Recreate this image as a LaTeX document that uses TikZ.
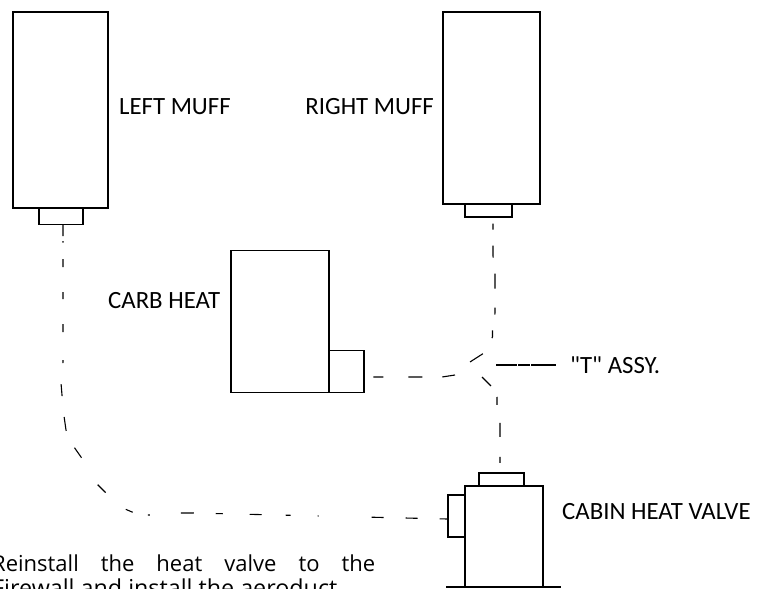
\documentclass[tikz,border=0pt]{standalone}
\usepackage{fontspec}
\setmainfont{Carlito}
\newfontfamily\rawlabel{Carlito}
\newfontfamily\bodyfont{Open Sans}
\tikzset{
  part/.style={draw=black,line width=1.3pt,inner sep=0pt,fill=white},
  lbl/.style={inner sep=0pt,font=\fontsize{24.8pt}{27pt}\selectfont,anchor=west},
  duct/.style={draw=black,line width=1.1pt},
  body/.style={inner sep=0pt,anchor=base west,font=\bodyfont\fontsize{22pt}{24pt}\selectfont}
}
\begin{document}
\begin{tikzpicture}[x=1pt,y=-1pt]
\useasboundingbox (0,0) rectangle (761,589);
\clip (0,0) rectangle (761,589);
% boxes
\node[part,minimum width=44pt,minimum height=17pt] (lf) at (61,216) {};
\node[part,minimum width=95pt,minimum height=196pt] (lm) at (60.5,110) {};
\node[part,minimum width=47pt,minimum height=13pt] (rf) at (488.5,210.5) {};
\node[part,minimum width=97pt,minimum height=192pt] (rm) at (491.5,108) {};
\node[part,minimum width=35pt,minimum height=42pt] (cf) at (346.5,371.5) {};
\node[part,minimum width=98pt,minimum height=142pt] (cm) at (280,321.5) {};
\node[part,minimum width=45pt,minimum height=13pt] (vt) at (501.5,479.5) {};
\node[part,minimum width=17pt,minimum height=42pt] (vl) at (456.5,516) {};
\draw[line width=1.5pt] (465,587) -- (465,486) -- (543,486) -- (543,587);
\draw[line width=1.2pt] (446,587) -- (561,587);
\coordinate (tu) at (470,362);
\coordinate (tv) at (484,353);
\coordinate (td) at (482,377);
\coordinate (te) at (491,386);
\coordinate (tl) at (496,365);
\coordinate (tr) at (556,365);
% labels
\node[lbl] (a) at (119,107) {LEFT MUFF};
\node[lbl,anchor=east] (b) at (434,107) {RIGHT MUFF};
\node[lbl] (c) at (108,301) {CARB HEAT};
\node[lbl] (d) at (562,512) {CABIN HEAT VALVE};
\node[lbl] (e) at (570,365) {{\rawlabel"T"} ASSY.};
% ducts
\draw[duct,dash pattern=on 11pt off 5pt on 1.5pt off 16.5pt on 8pt off 25pt on 7pt off 25pt on 8pt off 28pt on 3pt off 21.1pt on 12pt off 21pt on 14pt off 18.8pt on 12.2pt off 31.4pt on 11.3pt off 26.2pt on 7.6pt off 15.3pt on 2pt off 31pt on 13pt off 22pt on 7pt off 27pt on 12pt off 24pt on 5pt off 27pt on 1pt off 53pt on 12pt off 22pt on 12pt off 22pt on 9pt off 50pt]
  ([xshift=2pt]lf.south) -- (63,362) -- (61,383) -- (62,395) -- (64,416) -- (66,430) -- (74,447) -- (81,457) -- (97,484) -- (105,492) -- (125,509) -- (132,512) -- (147,515) -- (149,515) -- (180,513) -- (193,513) -- ([yshift=-3pt]vl.west);
\draw[duct,dash pattern=on 0pt off 6pt on 6pt off 16pt on 12pt off 16pt on 15pt off 19pt on 7pt off 16pt on 8pt off 18.1pt on 16.6pt off 50pt]
  ([xshift=4.5pt]rf.south) -- (493,256) -- (495,272) -- (495,313) -- (492.5,329) -- (492.5,337) -- (tv) -- (tu);
\draw[duct,dash pattern=on 12.7pt off 12.5pt on 8pt off 18.2pt on 14pt off 20pt on 6pt off 50pt]
  (td) -- (te) -- (497,397) -- (497,405) -- (500,423) -- (500,463) -- ([xshift=-1.5pt]vt.north);
\draw[duct,line width=1.9pt,dash pattern=on 21pt off 1pt on 12pt off 1pt on 26pt] (tl) -- (tr);
\draw[duct,dash pattern=on 0pt off 10.3pt on 10pt off 25pt on 14pt off 20pt on 13.2pt off 50pt]
  (cf.east) -- (373,377) -- (442,377) -- (455,375);
% text
\node[body] (p1) at (-8,571) {\hbox to 383pt{Reinstall\hfill the\hfill heat\hfill valve\hfill to\hfill the}};
\node[body,font=\bodyfont\fontsize{23.3pt}{25pt}\selectfont] (p2) at (-8,596) {\hbox to 345pt{Firewall and install the aeroduct.\hss}};
\end{tikzpicture}
\end{document}
